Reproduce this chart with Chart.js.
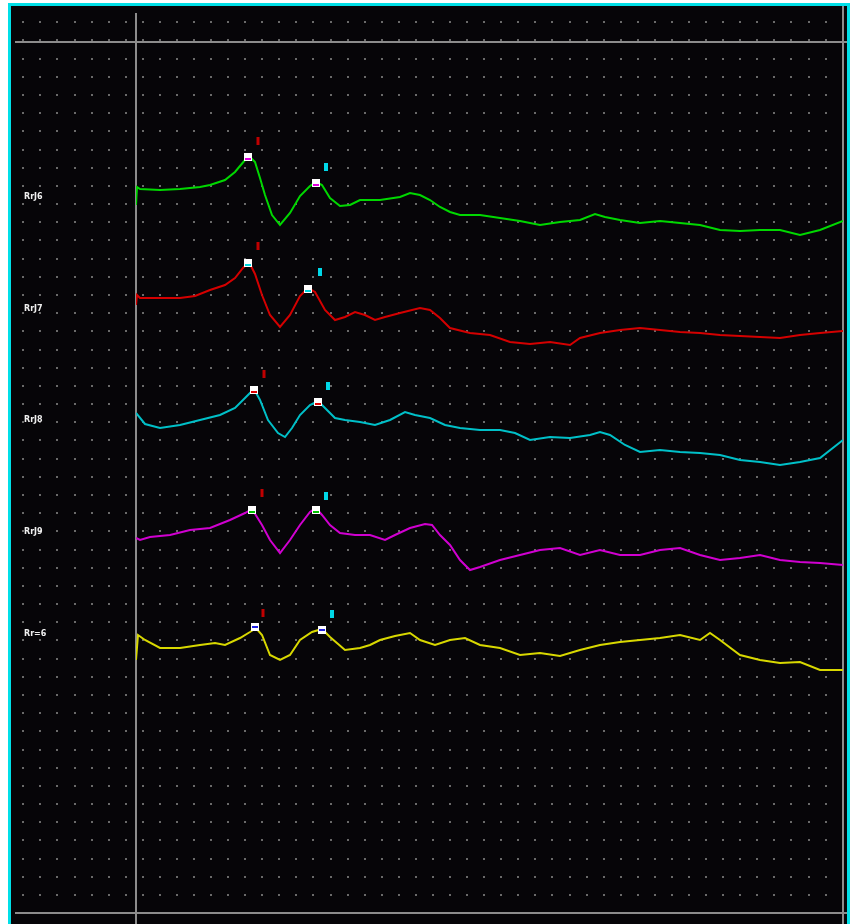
<!DOCTYPE html>
<html lang="en">
<head>
  <meta charset="UTF-8">
  <title>RrJ traces</title>
  <script src="https://cdn.jsdelivr.net/npm/chart.js@4.4.0/dist/chart.umd.min.js"></script>
  <style>
    body {
      margin: 0;
      background-color: #fff;
      overflow: hidden;
    }
    #scope {
      position: absolute;
      left: 8px;
      top: 3px;
      width: 836px;
      height: 930px;
      border: 3px solid #00e0e8;
      border-bottom: none;
      background-color: #060508;
    }
    canvas { display: block; }
  </style>
</head>
<body>
  <div id="scope">
    <canvas id="traceChart" width="836" height="918"></canvas>
  </div>
  <script>
    // channel names and the level each trace sits on
    const channelNames = ['RrJ6', 'RrJ7', 'RrJ8', 'RrJ9', 'Rr=6'];
    const channelLevels = [716, 604, 493, 381, 279];
    const channelColors = ['#00d800', '#d40000', '#00c0c8', '#d000d0', '#d8d800'];
    const markColors = ['#e000e0', '#00d8e0', '#e00000', '#00c000', '#2020e0'];

    // time (ms) and deflection for each trace
    const t6 = [0, 1, 4, 24, 44, 64, 74, 89, 99, 109, 113, 119, 124, 129, 136, 144, 154, 164, 174, 180, 186, 194, 204, 214, 224, 244, 264, 274, 284, 294, 304, 314, 324, 344, 364, 384, 404, 424, 444, 459, 469, 484, 504, 524, 544, 564, 584, 604, 624, 644, 664, 684, 707];
    const v6 = [-8, 10, 8, 7, 8, 10, 12, 17, 25, 37, 41, 35, 19, 2, -18, -28, -16, 1, 11, 15, 12, -1, -9, -8, -3, -3, 0, 4, 2, -3, -10, -15, -18, -18, -21, -24, -28, -25, -23, -17, -20, -23, -26, -24, -26, -28, -33, -34, -33, -33, -38, -33, -24];

    const t7 = [0, 1, 4, 24, 44, 59, 74, 89, 99, 107, 113, 119, 126, 134, 144, 154, 164, 172, 179, 189, 199, 209, 219, 229, 239, 249, 264, 284, 294, 304, 314, 334, 354, 374, 394, 414, 434, 444, 464, 484, 504, 524, 544, 564, 584, 604, 624, 644, 664, 684, 707];
    const v7 = [4, 14, 11, 11, 11, 13, 19, 24, 31, 41, 47, 35, 14, -6, -18, -6, 13, 21, 17, -1, -11, -8, -3, -6, -11, -8, -4, 1, -1, -9, -19, -24, -26, -33, -35, -33, -36, -29, -24, -21, -19, -21, -23, -24, -26, -27, -28, -29, -26, -24, -22];

    const t8 = [0, 9, 24, 44, 64, 84, 99, 109, 118, 124, 132, 142, 149, 156, 164, 174, 182, 189, 199, 209, 224, 239, 254, 269, 279, 294, 309, 324, 344, 364, 379, 394, 414, 434, 454, 464, 474, 489, 504, 524, 544, 564, 584, 604, 624, 644, 664, 684, 707];
    const v8 = [7, -4, -8, -5, 0, 5, 12, 22, 31, 20, 0, -13, -17, -8, 5, 15, 19, 12, 2, 0, -2, -5, 0, 8, 5, 2, -5, -8, -10, -10, -13, -20, -17, -18, -15, -12, -15, -25, -32, -30, -32, -33, -35, -40, -42, -45, -42, -38, -20];

    const t9 = [0, 4, 14, 34, 54, 74, 94, 109, 116, 126, 134, 144, 154, 164, 174, 180, 186, 194, 204, 219, 234, 249, 259, 274, 289, 296, 304, 314, 324, 334, 344, 364, 384, 404, 424, 444, 464, 484, 504, 524, 544, 564, 584, 604, 624, 644, 664, 684, 707];
    const v9 = [-6, -8, -5, -3, 2, 4, 12, 19, 23, 7, -8, -21, -8, 7, 20, 24, 17, 7, -1, -3, -3, -8, -3, 4, 8, 7, -3, -13, -28, -38, -35, -28, -23, -18, -16, -23, -18, -23, -23, -18, -16, -23, -28, -26, -23, -28, -30, -31, -33];

    const t10 = [0, 2, 9, 24, 44, 64, 79, 89, 104, 114, 120, 126, 134, 144, 154, 164, 176, 186, 194, 209, 224, 234, 244, 259, 274, 284, 299, 314, 329, 344, 364, 384, 404, 424, 444, 464, 484, 504, 524, 544, 564, 574, 584, 604, 624, 644, 664, 684, 707];
    const v10 = [-26, -1, -6, -14, -14, -11, -9, -11, -4, 2, 6, -1, -21, -26, -21, -6, 2, 5, -3, -16, -14, -11, -6, -2, 1, -6, -11, -6, -4, -11, -14, -21, -19, -22, -16, -11, -8, -6, -4, -1, -6, 1, -6, -21, -26, -29, -28, -36, -36];

    const traceTimes = [t6, t7, t8, t9, t10];
    const traceValues = [v6, v7, v8, v9, v10];

    // annotated peaks: two per trace (time, deflection)
    const peakTimes = [[112, 180], [112, 172], [118, 182], [116, 180], [119, 186]];
    const peakValues = [[40, 14], [46, 20], [30, 18], [22, 22], [7, 4]];
    // small cursor ticks above each peak
    const tickTimes = [[122, 190], [122, 184], [128, 192], [126, 190], [127, 196]];
    const tickValues = [[56, 30], [63, 37], [46, 34], [39, 36], [21, 20]];

    // white square with a coloured stripe, used as the peak marker
    function makeMarker(stripe, stripeTop) {
      const c = document.createElement('canvas');
      c.width = 8;
      c.height = 8;
      const g = c.getContext('2d');
      g.fillStyle = '#ffffff';
      g.fillRect(0, 0, 8, 8);
      g.fillStyle = stripe;
      g.fillRect(1, stripeTop, 6, 2);
      return c;
    }

    const datasets = [];
    channelNames.forEach((name, i) => {
      datasets.push({
        label: name,
        data: traceTimes[i].map((t, k) => ({ x: t, y: channelLevels[i] + traceValues[i][k] })),
        borderColor: channelColors[i],
        borderWidth: 2,
        pointRadius: 0,
        tension: 0,
        order: 2
      });
    });
    channelNames.forEach((name, i) => {
      datasets.push({
        type: 'scatter',
        label: name + ' peaks',
        data: peakTimes[i].map((t, k) => ({ x: t, y: channelLevels[i] + peakValues[i][k] })),
        pointStyle: makeMarker(markColors[i], i === 4 ? 3 : 5),
        pointRadius: 4,
        order: 1
      });
      datasets.push({
        type: 'scatter',
        label: name + ' cursors',
        data: tickTimes[i].map((t, k) => ({ x: t, y: channelLevels[i] + tickValues[i][k] })),
        pointStyle: 'line',
        pointRotation: 90,
        pointRadius: 4,
        pointBorderWidth: [3, 4],
        pointBorderColor: ['#c00000', '#00d8e8'],
        pointBackgroundColor: 'transparent',
        order: 1
      });
    });

    // dotted background grid plus the frame lines
    const scopeGrid = {
      id: 'scopeGrid',
      beforeDraw(chart) {
        const ctx = chart.ctx;
        ctx.save();
        ctx.fillStyle = '#060508';
        ctx.fillRect(0, 0, chart.width, chart.height);
        ctx.fillStyle = '#6a6a6a';
        for (let j = 0; j < 50; j++) {
          const y = Math.round(16.3 + j * 18.18);
          for (let k = 0; k < 49; k++) {
            const x = Math.round(12.3 + k * 17.07);
            ctx.fillRect(x - 1, y - 1, 2, 2);
          }
        }
        const a = chart.chartArea;
        ctx.strokeStyle = '#8c8c8c';
        ctx.lineWidth = 2;
        ctx.beginPath();
        ctx.moveTo(4, a.top); ctx.lineTo(chart.width, a.top);
        ctx.moveTo(4, a.bottom); ctx.lineTo(a.right + 4, a.bottom);
        ctx.moveTo(a.left, 7); ctx.lineTo(a.left, chart.height);
        ctx.moveTo(a.right, 0); ctx.lineTo(a.right, chart.height);
        ctx.stroke();
        ctx.restore();
      },
      afterDraw(chart) {
        const ctx = chart.ctx;
        const y = chart.scales.y;
        ctx.save();
        ctx.fillStyle = '#f0f0f0';
        ctx.font = 'bold 8px "DejaVu Sans"';
        ctx.textBaseline = 'middle';
        channelNames.forEach((name, i) => {
          ctx.fillText(name, 13, Math.round(y.getPixelForValue(channelLevels[i])));
        });
        ctx.restore();
      }
    };

    new Chart(document.getElementById('traceChart'), {
      type: 'line',
      data: { datasets },
      options: {
        responsive: false,
        animation: false,
        devicePixelRatio: 1,
        layout: { autoPadding: false, padding: { left: 125, top: 36, right: 4, bottom: 11 } },
        scales: {
          x: { type: 'linear', min: 0, max: 707, display: false },
          y: { min: 0, max: 871, display: false }
        },
        plugins: {
          legend: { display: false },
          tooltip: { enabled: false }
        }
      },
      plugins: [scopeGrid]
    });
  </script>
</body>
</html>
